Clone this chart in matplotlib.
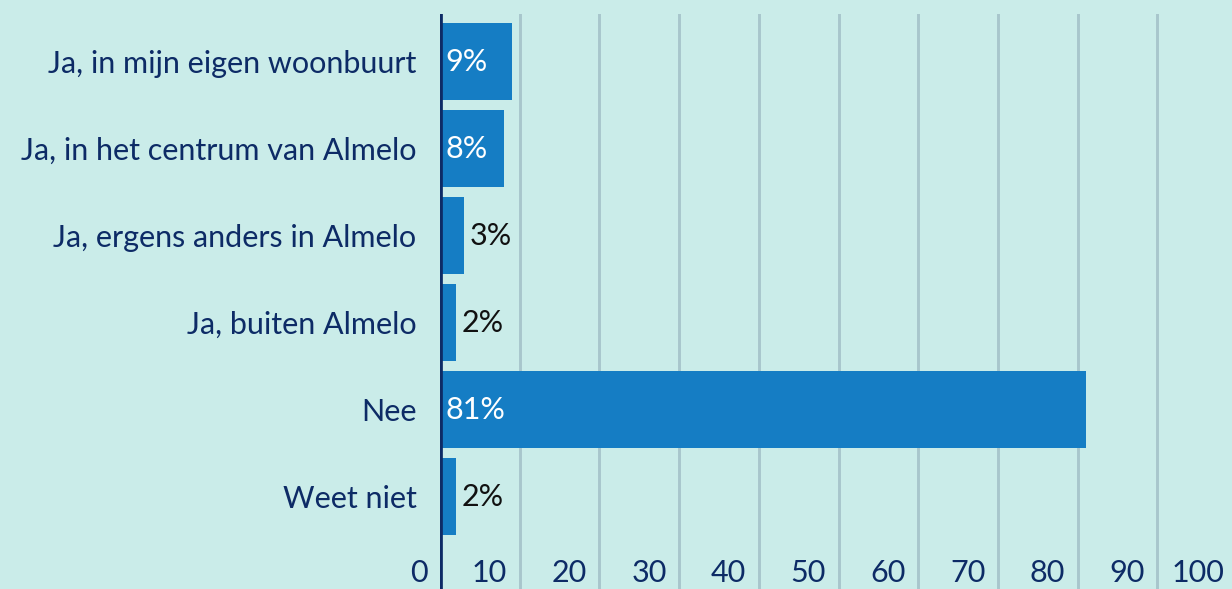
import matplotlib.pyplot as plt
import numpy as np

# Data
categories = ['Ja, in mijn eigen woonbuurt', 'Ja, in het centrum van Almelo',
              'Ja, ergens anders in Almelo', 'Ja, buiten Almelo', 'Nee', 'Weet niet']
values = [9, 8, 3, 2, 81, 2]
xticks = [0, 10, 20, 30, 40, 50, 60, 70, 80, 90, 100]

bg = '#caece9'
bar_color = '#157dc4'
grid_color = '#a8c6cc'
navy = '#0d2b66'

plt.rcParams['font.family'] = ['Lato', 'DejaVu Sans']

fig = plt.figure(figsize=(12.32, 5.89), dpi=100, facecolor=bg)
ax = fig.add_axes([440 / 1232, 0, 1 - 440 / 1232, 575 / 589])
ax.set_facecolor(bg)

y = np.arange(len(categories))
ax.barh(y, values, height=0.885, color=bar_color, zorder=3)

ax.set_xlim(0, (1232 - 440) / 7.97)
ax.set_ylim(6.063, -0.546)

# vertical gridlines
for t in xticks[1:]:
    ax.axvline(t, color=grid_color, linewidth=2.1, zorder=1)
ax.axvline(0, color=navy, linewidth=3.4, zorder=4)

for s in ax.spines.values():
    s.set_visible(False)

ax.set_xticks([])
ax.set_yticks(y)
ax.set_yticklabels(categories, fontsize=22, color=navy)
ax.tick_params(axis='y', length=0, pad=17)

# x tick labels drawn inside the bottom row
for t in xticks:
    ax.annotate(str(t), xy=(t, 5.88), xytext=(-9, 0), textcoords='offset points',
                ha='right', va='center', fontsize=22, color=navy,
                annotation_clip=False, zorder=5)

# value labels
for i, v in enumerate(values):
    if v >= 5:
        ax.annotate(f'{v}%', xy=(0, i), xytext=(4, 0), textcoords='offset points',
                    ha='left', va='center', fontsize=22, color='white', zorder=5)
    else:
        ax.annotate(f'{v}%', xy=(v, i), xytext=(4, 0), textcoords='offset points',
                    ha='left', va='center', fontsize=22, color='#111111', zorder=5)

plt.savefig('out.png', dpi=100, facecolor=bg)
